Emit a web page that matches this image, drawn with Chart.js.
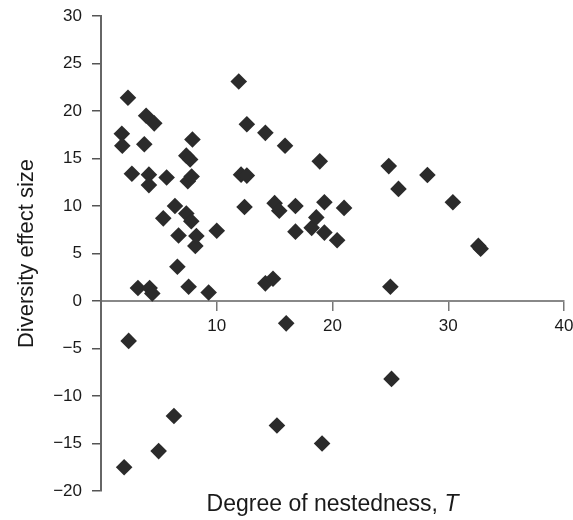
<!DOCTYPE html>
<html>
<head>
<meta charset="utf-8">
<script src="https://cdn.jsdelivr.net/npm/chart.js@4/dist/chart.umd.min.js"></script>
<style>
  html, body { margin: 0; padding: 0; background: #ffffff; }
  #wrap { width: 573px; height: 520px; position: relative; }
</style>
</head>
<body>
<div id="wrap"><canvas id="c" width="573" height="520"></canvas></div>
<script>
// Degree of nestedness, T (x) and diversity effect size (y)
const nestedness = [
  1.8, 1.84, 2.0, 2.33, 2.39, 2.67, 3.19, 3.74, 3.9, 4.14, 4.14, 4.2, 4.43, 4.6,
  4.98, 5.38, 5.67, 6.3, 6.39, 6.6, 6.7, 7.37, 7.37, 7.5, 7.57, 7.7, 7.8, 7.83,
  7.9, 8.15, 8.24, 9.3, 10.0, 11.9, 12.1, 12.4, 12.6, 12.6, 14.2, 14.2, 14.86,
  15.0, 15.2, 15.4, 15.9, 16.0, 16.8, 16.8, 18.2, 18.6, 18.9, 19.1, 19.3, 19.3,
  20.4, 21.0, 24.86, 25.0, 25.1, 25.7, 28.2, 30.4, 32.6, 32.8
];
const effectSize = [
  17.6, 16.35, -17.5, 21.4, -4.2, 13.4, 1.37, 16.5, 19.5, 13.3, 12.2, 1.37, 0.8, 18.7,
  -15.8, 8.7, 13.0, -12.1, 10.0, 3.6, 6.9, 15.3, 9.2, 12.6, 1.5, 14.9, 8.4, 13.1,
  17.0, 5.8, 6.84, 0.9, 7.4, 23.1, 13.3, 9.9, 18.6, 13.2, 17.7, 1.86, 2.35,
  10.3, -13.1, 9.5, 16.35, -2.35, 10.0, 7.3, 7.7, 8.8, 14.7, -15.0, 10.4, 7.2,
  6.4, 9.8, 14.2, 1.5, -8.2, 11.8, 13.26, 10.4, 5.8, 5.5
];
const xTicks = [0, 10, 20, 30, 40];
const yTicks = [-20, -15, -10, -5, 0, 5, 10, 15, 20, 25, 30];
const xTitle = 'Degree of nestedness, ';
const xTitleItalic = 'T';
const yTitle = 'Diversity effect size';

const points = nestedness.map((x, i) => ({ x: x, y: effectSize[i] }));
const FONT = '"Liberation Sans", Arial, Helvetica, sans-serif';

const titlePlugin = {
  id: 'axisTitles',
  afterDraw(chart) {
    const ctx = chart.ctx;
    const area = chart.chartArea;
    ctx.save();
    ctx.fillStyle = '#1a1a1a';
    ctx.font = '23px ' + FONT;
    const w1 = ctx.measureText(xTitle).width;
    ctx.font = 'italic 23px ' + FONT;
    const w2 = ctx.measureText(xTitleItalic).width;
    const cx = (area.left + area.right) / 2;
    const sx = cx - (w1 + w2) / 2;
    ctx.textBaseline = 'alphabetic';
    ctx.textAlign = 'left';
    ctx.font = '23px ' + FONT;
    ctx.fillText(xTitle, sx, 511);
    ctx.font = 'italic 23px ' + FONT;
    ctx.fillText(xTitleItalic, sx + w1, 511);
    ctx.translate(33, (area.top + area.bottom) / 2);
    ctx.rotate(-Math.PI / 2);
    ctx.font = '22px ' + FONT;
    ctx.textAlign = 'center';
    ctx.textBaseline = 'alphabetic';
    ctx.fillText(yTitle, 0, 0);
    ctx.restore();
  }
};

new Chart(document.getElementById('c'), {
  type: 'scatter',
  data: {
    datasets: [{
      data: points,
      pointStyle: 'rectRot',
      pointRadius: 8.3,
      pointHoverRadius: 8.3,
      backgroundColor: '#2b2b2b',
      borderColor: '#2b2b2b',
      borderWidth: 0
    }]
  },
  options: {
    responsive: false,
    animation: false,
    events: [],
    layout: { padding: { left: 0, right: 9, top: 16, bottom: 29 } },
    plugins: { legend: { display: false }, tooltip: { enabled: false } },
    scales: {
      x: {
        type: 'linear',
        position: { y: 0 },
        min: 0,
        max: 40,
        afterBuildTicks(scale) { scale.ticks = xTicks.map(v => ({ value: v })); },
        afterFit(scale) { scale.paddingLeft = 0; scale.paddingRight = 0; },
        ticks: {
          color: '#1a1a1a',
          font: { family: FONT, size: 17 },
          padding: 6,
          maxRotation: 0,
          callback: (v) => (v === 0 ? '' : String(v))
        },
        grid: { drawOnChartArea: false, drawTicks: true, tickLength: 9, color: '#777', lineWidth: 1.5 },
        border: { display: true, color: '#888', width: 2 }
      },
      y: {
        type: 'linear',
        position: 'left',
        min: -20,
        max: 30,
        afterBuildTicks(scale) { scale.ticks = yTicks.map(v => ({ value: v })); },
        afterFit(scale) { scale.width = 101; scale.paddingTop = 0; scale.paddingBottom = 0; },
        ticks: {
          color: '#1a1a1a',
          font: { family: FONT, size: 17 },
          padding: 10,
          callback: (v) => (v < 0 ? '\u2212' + Math.abs(v) : String(v))
        },
        grid: { drawOnChartArea: false, drawTicks: true, tickLength: 9, color: '#555', lineWidth: 1.5 },
        border: { display: true, color: '#666', width: 2 }
      }
    }
  },
  plugins: [titlePlugin]
});
</script>
</body>
</html>
